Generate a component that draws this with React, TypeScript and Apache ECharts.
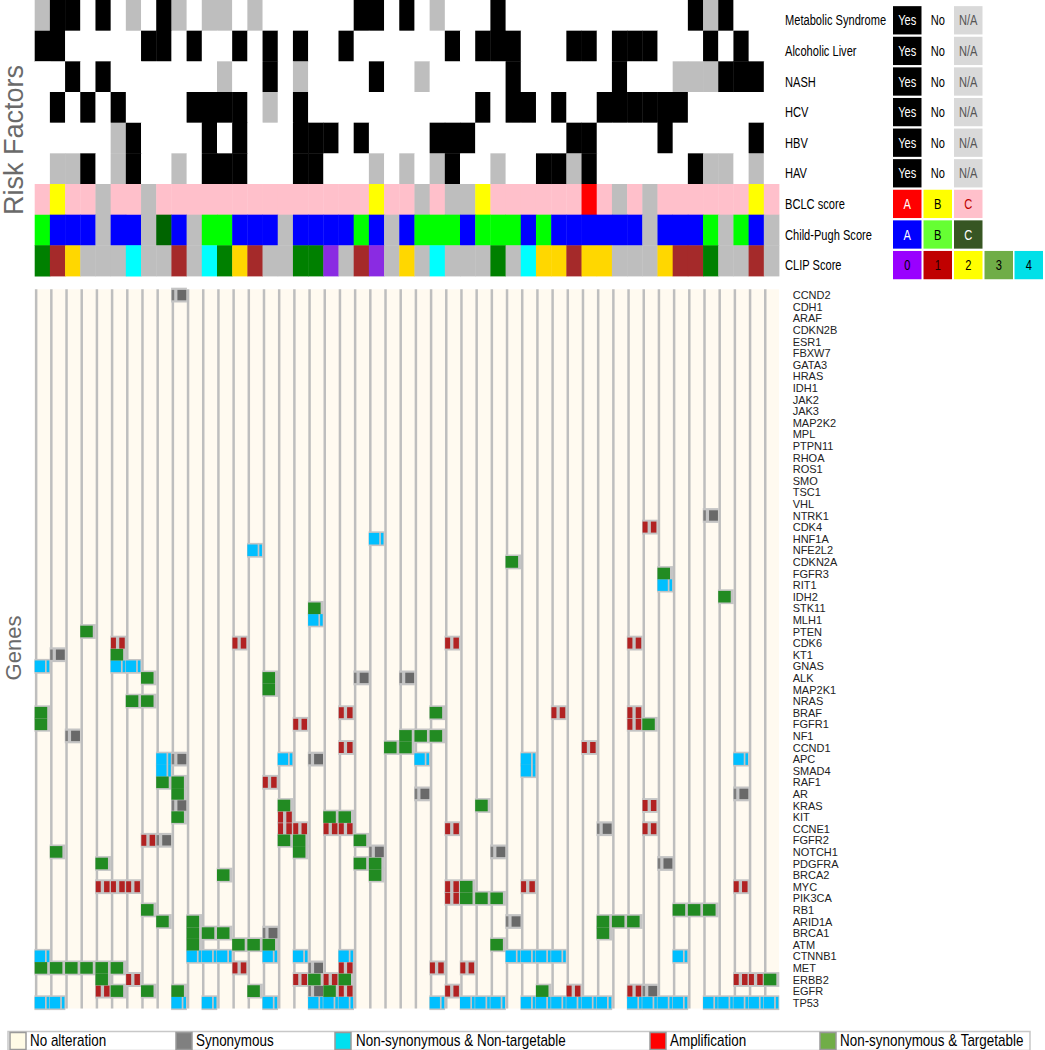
import React, { useEffect, useRef } from 'react';
import * as echarts from 'echarts';

// ---------- DATA ----------
const samples: string[] = [
  'P1','P2','P3','P4','P5','P6','P7','P8','P9','P10','P11','P12','P13','P14','P15','P16','P17',
  'P18','P19','P20','P21','P22','P23','P24','P25','P26','P27','P28','P29','P30','P31','P32','P33',
  'P34','P35','P36','P37','P38','P39','P40','P41','P42','P43','P44','P45','P46','P47','P48','P49'
];

const riskFactors = ['Metabolic Syndrome', 'Alcoholic Liver', 'NASH', 'HCV', 'HBV', 'HAV'];
// Y = yes, N = no, - = N/A  (one character per sample)
const riskStatus = [
  '-YYNYN-NY-' + 'N--N-NNNNN' + 'NYYNYN-NNN' + 'YNNNNNNNNN' + 'NNNY-YNNN',
  'YYNNNNNYYN' + 'YNNYNYNYNN' + 'YNNNNNNYNY' + 'YYNNNYYNYY' + 'YNNNYNYNN',
  'NNYNYNNNNN' + 'NN-NNYN-NN' + 'NNYNN-NNNN' + 'NYNNNNNNYN' + 'NN---YYYN',
  'NYNYNYNNNN' + 'YYYYN-NYNN' + 'NNNNNNNNNY' + 'NYYNYNNYYY' + 'YYYNNNNNN',
  'NNNNN-YNNN' + 'NYNYNNNYYY' + 'NYNNNNYYYN' + 'NNNNNYYNNN' + 'NYNNNNNYN',
  'N--YN-YNN-' + 'NYYYNNNYYN' + 'NN-N-N-YNN' + '-NNYY-YNNN' + 'NNNY--N-N'
];
const bclcScores = 'CBCC-CC-CC' + 'CCCCCCCCCC' + 'CCBCC-C--B' + 'CCCCCCAC-C' + '-CCCCCCBC';
const childPughScores = 'BAAA-AA-CA' + '-BBAAA-AAA' + 'ABA-ABBBAB' + 'BBABAAAAAA' + '-AAAB-BA-';
const clipScores = '312---4--1' + '-4321--330' + '-10-2-4---' + '3-422122--' + '-2113--1-';

const topRows = [...riskFactors, 'BCLC score', 'Child-Pugh Score', 'CLIP Score'];

const genes = [
  'CCND2','CDH1','ARAF','CDKN2B','ESR1','FBXW7','GATA3','HRAS','IDH1','JAK2','JAK3','MAP2K2','MPL',
  'PTPN11','RHOA','ROS1','SMO','TSC1','VHL','NTRK1','CDK4','HNF1A','NFE2L2','CDKN2A','FGFR3','RIT1',
  'IDH2','STK11','MLH1','PTEN','CDK6','KT1','GNAS','ALK','MAP2K1','NRAS','BRAF','FGFR1','NF1','CCND1',
  'APC','SMAD4','RAF1','AR','KRAS','KIT','CCNE1','FGFR2','NOTCH1','PDGFRA','BRCA2','MYC','PIK3CA','RB1',
  'ARID1A','BRCA1','ATM','CTNNB1','MET','ERBB2','EGFR','TP53'
];

// [gene, sample column]
const synonymous: [string, number][] = [
  ['CCND2', 9], ['NTRK1', 44], ['KT1', 1], ['ALK', 21], ['ALK', 24], ['NF1', 2], ['APC', 9], ['APC', 18],
  ['AR', 25], ['AR', 46], ['KRAS', 9], ['CCNE1', 37], ['FGFR2', 8], ['NOTCH1', 22], ['NOTCH1', 30],
  ['PDGFRA', 41], ['ARID1A', 31], ['BRCA1', 15], ['MET', 18], ['EGFR', 18], ['EGFR', 40]
];
const nonsynNonTargetable: [string, number][] = [
  ['HNF1A', 22], ['NFE2L2', 14], ['RIT1', 41], ['MLH1', 18], ['GNAS', 0], ['GNAS', 5], ['GNAS', 6],
  ['APC', 8], ['APC', 16], ['APC', 25], ['APC', 32], ['APC', 46], ['SMAD4', 8], ['SMAD4', 32],
  ['CTNNB1', 0], ['CTNNB1', 10], ['CTNNB1', 11], ['CTNNB1', 12], ['CTNNB1', 15], ['CTNNB1', 17],
  ['CTNNB1', 20], ['CTNNB1', 31], ['CTNNB1', 32], ['CTNNB1', 33], ['CTNNB1', 34], ['CTNNB1', 42],
  ['TP53', 0], ['TP53', 1], ['TP53', 9], ['TP53', 11], ['TP53', 15], ['TP53', 18], ['TP53', 19],
  ['TP53', 20], ['TP53', 26], ['TP53', 28], ['TP53', 29], ['TP53', 30], ['TP53', 32], ['TP53', 33],
  ['TP53', 34], ['TP53', 35], ['TP53', 36], ['TP53', 37], ['TP53', 39], ['TP53', 40], ['TP53', 41],
  ['TP53', 42], ['TP53', 44], ['TP53', 45], ['TP53', 46], ['TP53', 47], ['TP53', 48]
];
const amplification: [string, number][] = [
  ['CDK4', 40], ['CDK6', 5], ['CDK6', 13], ['CDK6', 27], ['CDK6', 39], ['BRAF', 20], ['BRAF', 34],
  ['BRAF', 39], ['FGFR1', 17], ['FGFR1', 39], ['CCND1', 20], ['CCND1', 36], ['RAF1', 15], ['KRAS', 40],
  ['KIT', 16], ['CCNE1', 16], ['CCNE1', 17], ['CCNE1', 19], ['CCNE1', 20], ['CCNE1', 27], ['CCNE1', 40],
  ['FGFR2', 7], ['MYC', 4], ['MYC', 5], ['MYC', 6], ['MYC', 27], ['MYC', 32], ['MYC', 46], ['PIK3CA', 27],
  ['MET', 13], ['MET', 20], ['MET', 26], ['MET', 28], ['ERBB2', 6], ['ERBB2', 17], ['ERBB2', 19],
  ['ERBB2', 46], ['ERBB2', 47], ['EGFR', 4], ['EGFR', 20], ['EGFR', 27], ['EGFR', 35], ['EGFR', 39]
];
const nonsynTargetable: [string, number][] = [
  ['STK11', 18], ['CDKN2A', 31], ['FGFR3', 41], ['IDH2', 45], ['PTEN', 3], ['KT1', 5], ['ALK', 7],
  ['ALK', 15], ['MAP2K1', 15], ['NRAS', 6], ['NRAS', 7], ['BRAF', 0], ['BRAF', 26], ['FGFR1', 0],
  ['FGFR1', 40], ['NF1', 24], ['NF1', 25], ['NF1', 26], ['CCND1', 23], ['CCND1', 24], ['RAF1', 8],
  ['RAF1', 9], ['AR', 9], ['KRAS', 16], ['KRAS', 29], ['KIT', 9], ['KIT', 19], ['KIT', 20],
  ['FGFR2', 16], ['FGFR2', 17], ['FGFR2', 21], ['NOTCH1', 1], ['NOTCH1', 17], ['PDGFRA', 4],
  ['PDGFRA', 21], ['PDGFRA', 22], ['BRCA2', 12], ['BRCA2', 22], ['MYC', 28], ['PIK3CA', 28],
  ['PIK3CA', 29], ['PIK3CA', 30], ['RB1', 7], ['RB1', 42], ['RB1', 43], ['RB1', 44], ['ARID1A', 8],
  ['ARID1A', 10], ['ARID1A', 37], ['ARID1A', 38], ['ARID1A', 39], ['BRCA1', 10], ['BRCA1', 11],
  ['BRCA1', 12], ['BRCA1', 37], ['ATM', 10], ['ATM', 13], ['ATM', 14], ['ATM', 15], ['ATM', 30],
  ['MET', 0], ['MET', 1], ['MET', 2], ['MET', 3], ['MET', 4], ['MET', 5], ['ERBB2', 4], ['ERBB2', 18],
  ['ERBB2', 20], ['ERBB2', 48], ['EGFR', 5], ['EGFR', 7], ['EGFR', 9], ['EGFR', 14], ['EGFR', 19],
  ['EGFR', 33]
];

const alterationLegend = ['No alteration', 'Synonymous', 'Non-synonymous & Non-targetable', 'Amplification', 'Non-synonymous & Targetable'];

// ---------- STYLES ----------
const NA_GRAY = '#bebebe';
const riskColors: Record<string, string> = { Y: '#000000', N: '#ffffff', '-': NA_GRAY };
const bclcColors: Record<string, string> = { A: '#ff0000', B: '#ffff00', C: '#ffc0cb', '-': NA_GRAY };
const cpColors: Record<string, string> = { A: '#0000ff', B: '#00ff00', C: '#006400', '-': NA_GRAY };
const clipColors: Record<string, string> = { '0': '#8a2be2', '1': '#a52a2a', '2': '#ffd700', '3': '#008000', '4': '#00ffff', '-': NA_GRAY };

const FONT = '"Liberation Sans", Arial, sans-serif';
const GRID_LEFT = 34.7;
const GRID_W = 744.3;
const TOP_H = 276;
const GENE_TOP = 289.3;
const GENE_H = 719.2;

function buildTopData() {
  const out: any[] = [];
  const rows = [...riskStatus, bclcScores, childPughScores, clipScores];
  const maps = [riskColors, riskColors, riskColors, riskColors, riskColors, riskColors, bclcColors, cpColors, clipColors];
  rows.forEach((row, r) => {
    row.split('').forEach((ch, c) => {
      out.push({ value: [c, r], itemStyle: { color: maps[r][ch] } });
    });
  });
  return out;
}

const toCells = (list: [string, number][]) => list.map(([g, c]) => [c, genes.indexOf(g)]);

function cellBox(api: any) {
  const p = api.coord([api.value(0), api.value(1)]);
  const s = api.size([1, 1]);
  return { L: p[0] - s[0] / 2, T: p[1] - s[1] / 2, w: s[0], h: s[1] };
}

function geneSeries(name: string, list: [string, number][], shapes: (b: any) => any[]) {
  return {
    type: 'custom', name, coordinateSystem: 'cartesian2d', xAxisIndex: 1, yAxisIndex: 1, z: 4,
    encode: { x: 0, y: 1 }, silent: true,
    data: toCells(list),
    renderItem: (_p: any, api: any) => ({ type: 'group', children: shapes(cellBox(api)) })
  };
}

const rect = (x: number, y: number, width: number, height: number, fill: string, extra: any = {}) =>
  ({ type: 'rect', shape: { x, y, width, height }, style: { fill, ...extra } });

function condensedText(text: string, x: number, y: number, fill: string, align = 'left', size = 15, sx = 0.74) {
  return {
    type: 'text', x, y, scaleX: sx, scaleY: 1,
    style: { text, fill, font: `${size}px ${FONT}`, textAlign: align, textVerticalAlign: 'middle', align, verticalAlign: 'middle' }
  };
}

function buildLegendGraphics() {
  const els: any[] = [];
  const boxX = [893, 923.5, 954, 984.5, 1014.5];
  const bw = 28.5, bh = 28.3;
  const rowY = (i: number) => 20.3 + 30.6 * i;
  const riskKeys = [
    { t: 'Yes', bg: '#000000', fg: '#ffffff' },
    { t: 'No', bg: '#ffffff', fg: '#000000' },
    { t: 'N/A', bg: '#d9d9d9', fg: '#555555' }
  ];
  const bclcKeys = [
    { t: 'A', bg: '#ff0000', fg: '#ffffff' },
    { t: 'B', bg: '#ffff00', fg: '#000000' },
    { t: 'C', bg: '#ffc0cb', fg: '#c00000' }
  ];
  const cpKeys = [
    { t: 'A', bg: '#0000ff', fg: '#ffffff' },
    { t: 'B', bg: '#66ff33', fg: '#000000' },
    { t: 'C', bg: '#375623', fg: '#ffffff' }
  ];
  const clipKeys = [
    { t: '0', bg: '#9900ff', fg: '#000000' },
    { t: '1', bg: '#c00000', fg: '#1a0000' },
    { t: '2', bg: '#ffff00', fg: '#000000' },
    { t: '3', bg: '#70ad47', fg: '#000000' },
    { t: '4', bg: '#00e0e8', fg: '#000000' }
  ];
  const keySets = [riskKeys, riskKeys, riskKeys, riskKeys, riskKeys, riskKeys, bclcKeys, cpKeys, clipKeys];
  topRows.forEach((label, i) => {
    const cy = rowY(i);
    els.push(condensedText(label, 785, cy, '#000000'));
    keySets[i].forEach((k, j) => {
      els.push(rect(boxX[j], cy - bh / 2, bw, bh, k.bg));
      els.push(condensedText(k.t, boxX[j] + bw / 2, cy, k.fg, 'center'));
    });
  });

  // axis titles
  els.push({
    type: 'text', x: 14, y: 140, rotation: Math.PI / 2,
    style: { text: 'Risk Factors', fill: '#6a6a6a', font: `27px ${FONT}`, textAlign: 'center', textVerticalAlign: 'middle', align: 'center', verticalAlign: 'middle' }
  });
  els.push({
    type: 'text', x: 13.5, y: 648, rotation: Math.PI / 2,
    style: { text: 'Genes', fill: '#6a6a6a', font: `22px ${FONT}`, textAlign: 'center', textVerticalAlign: 'middle', align: 'center', verticalAlign: 'middle' }
  });

  // bottom legend
  const ly = 1041;
  els.push({ type: 'rect', shape: { x: 8, y: 1031.5, width: 1022, height: 19 }, style: { fill: '#ffffff', stroke: '#c8c8c8', lineWidth: 1.5 } });
  const swX = [10, 176, 335, 650, 820];
  const txX = [30, 196, 356, 670, 840];
  const swC = ['#fffbe6', '#808080', '#00e0f0', '#ff0000', '#70ad47'];
  alterationLegend.forEach((t, i) => {
    els.push({ type: 'rect', shape: { x: swX[i], y: ly - 8.5, width: 16, height: 17 }, style: { fill: swC[i], stroke: '#9a9a9a', lineWidth: 1.5 } });
    els.push(condensedText(t, txX[i], ly, '#000000', 'left', 16, 0.84));
  });
  return els;
}

const option: any = {
  animation: false,
  backgroundColor: '#ffffff',
  grid: [
    { left: GRID_LEFT, top: 0, width: GRID_W, height: TOP_H, show: false },
    { left: GRID_LEFT, top: GENE_TOP, width: GRID_W, height: GENE_H, show: true, backgroundColor: '#fffaf0', borderWidth: 0 }
  ],
  xAxis: [
    { type: 'category', gridIndex: 0, data: samples, show: false },
    { type: 'category', gridIndex: 1, data: samples, show: false }
  ],
  yAxis: [
    { type: 'category', gridIndex: 0, data: topRows, inverse: true, show: false },
    {
      type: 'category', gridIndex: 1, data: genes, inverse: true, position: 'right',
      axisLine: { show: false }, axisTick: { show: false }, splitLine: { show: false },
      axisLabel: { interval: 0, margin: 13.7, align: 'left', fontSize: 11, fontFamily: FONT, color: '#222222' }
    }
  ],
  graphic: { elements: buildLegendGraphics() },
  series: [
    {
      type: 'custom', name: 'clinical', coordinateSystem: 'cartesian2d', xAxisIndex: 0, yAxisIndex: 0,
      encode: { x: 0, y: 1 }, silent: true, data: buildTopData(),
      renderItem: (_p: any, api: any) => {
        const b = cellBox(api);
        return rect(b.L, b.T, b.w + 0.4, b.h + 0.4, api.visual('color'));
      }
    },
    {
      type: 'custom', name: 'columns', coordinateSystem: 'cartesian2d', xAxisIndex: 1, yAxisIndex: 1, z: 2,
      encode: { x: 0, y: 1 }, silent: true, data: samples.map((_, i) => [i, 0]),
      renderItem: (p: any, api: any) => {
        const b = cellBox(api);
        const cs = p.coordSys;
        return rect(b.L + 0.2, cs.y, 2.5, cs.height, '#bebebe');
      }
    },
    {
      type: 'custom', name: 'halo', coordinateSystem: 'cartesian2d', xAxisIndex: 1, yAxisIndex: 1, z: 3,
      encode: { x: 0, y: 1 }, silent: true,
      data: toCells([...synonymous, ...nonsynNonTargetable, ...amplification, ...nonsynTargetable]),
      renderItem: (_p: any, api: any) => {
        const b = cellBox(api);
        return rect(b.L - 0.3, b.T - 1.6, b.w + 0.6, b.h + 3.2, '#c4c4c4');
      }
    },
    geneSeries('Synonymous', synonymous, (b) => [
      rect(b.L + 0.3, b.T + 0.6, 2.5, b.h - 1.2, '#7d7d7d'),
      rect(b.L + 6, b.T + 0.6, b.w - 6.3, b.h - 1.2, '#696969')
    ]),
    geneSeries('Non-synonymous & Non-targetable', nonsynNonTargetable, (b) => [
      rect(b.L, b.T, 10.3, b.h, '#00bfff'),
      rect(b.L + 12, b.T, 2.6, b.h, '#00bfff')
    ]),
    geneSeries('Amplification', amplification, (b) => [
      rect(b.L + 0.3, b.T + 0.3, 5, b.h - 0.6, '#b22222'),
      rect(b.L + 8.6, b.T + 0.3, 5.5, b.h - 0.6, '#b22222')
    ]),
    geneSeries('Non-synonymous & Targetable', nonsynTargetable, (b) => [
      rect(b.L, b.T, 12.5, b.h, '#228b22')
    ])
  ]
};

export default function App() {
  const ref = useRef<HTMLDivElement>(null);
  useEffect(() => {
    const chart = echarts.init(ref.current!, null, { renderer: 'svg' });
    chart.setOption(option);
    return () => chart.dispose();
  }, []);
  return <div ref={ref} style={{ position: 'absolute', left: 0, top: 0, width: 1045, height: 1050 }} />;
}
